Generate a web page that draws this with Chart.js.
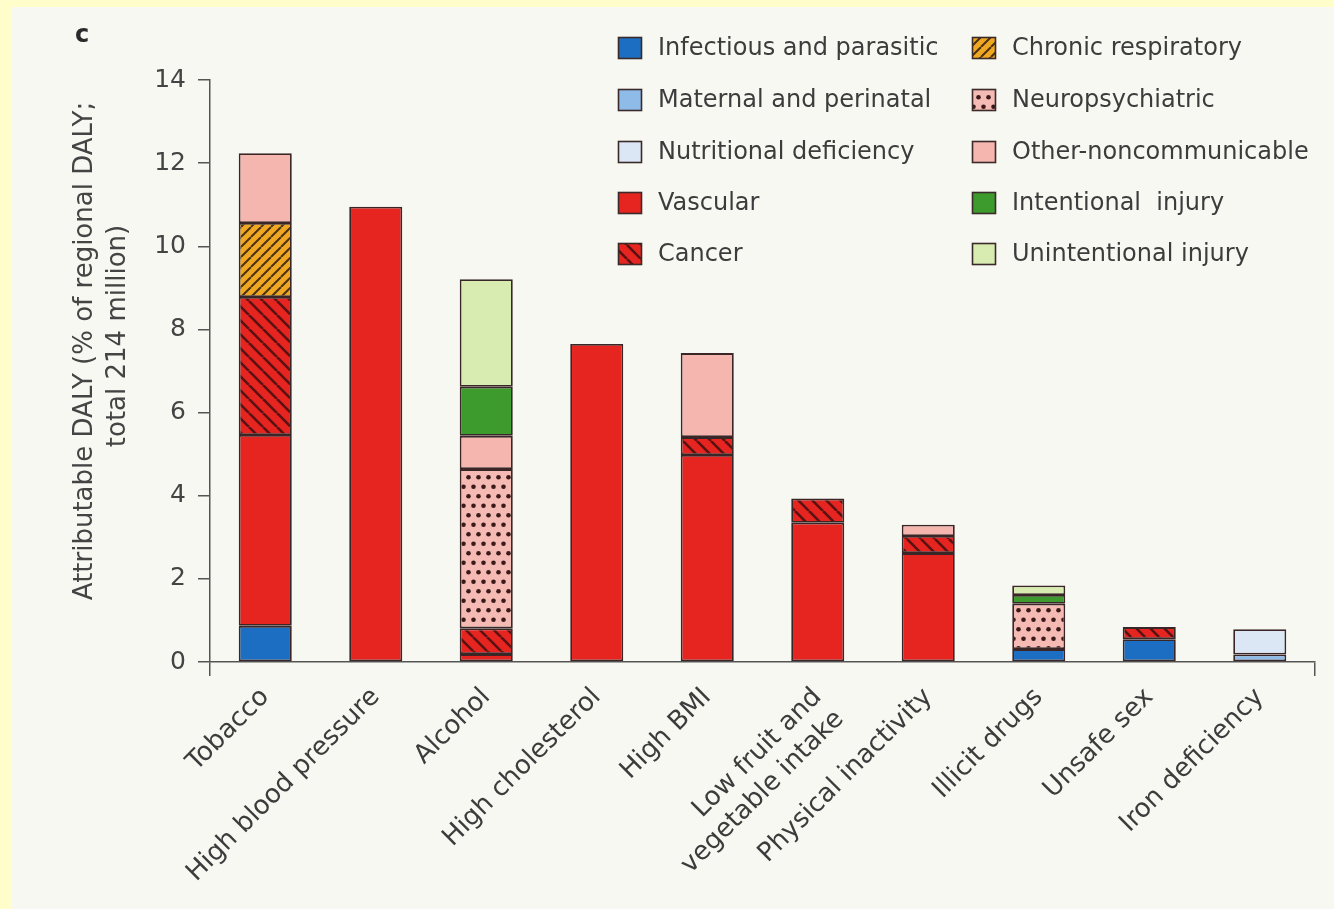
<!DOCTYPE html>
<html>
<head>
<meta charset="utf-8">
<script src="https://cdn.jsdelivr.net/npm/chart.js@4.4.1/dist/chart.umd.min.js"></script>
<style>
  html, body { margin: 0; padding: 0; background: #fffdc9; }
  #panel { position: absolute; left: 11px; top: 7px; width: 1323px; height: 902px; background: #f8f8f3; }
  canvas { display: block; }
</style>
</head>
<body>
<div id="panel"><canvas id="chart" width="1323" height="902"></canvas></div>
<script>
// Risk factors (x categories)
const categories = [
  'Tobacco', 'High blood pressure', 'Alcohol', 'High cholesterol', 'High BMI',
  ['Low fruit and', 'vegetable intake'], 'Physical inactivity', 'Illicit drugs',
  'Unsafe sex', 'Iron deficiency'
];

// Attributable DALY (% of regional DALY) by cause group, stacked bottom to top
const infectious     = [0.87, null, null, null, null, null, null, 0.31, 0.55, null];
const maternal       = [null, null, null, null, null, null, null, null, null, 0.18];
const nutritional    = [null, null, null, null, null, null, null, null, null, 0.61];
const vascular       = [4.59, 10.95, 0.19, 7.65, 4.98, 3.35, 2.62, null, null, null];
const cancer         = [3.32, null, 0.62, null, 0.43, 0.58, 0.41, null, 0.29, null];
const chronicResp    = [1.78, null, null, null, null, null, null, null, null, null];
const neuropsych     = [null, null, 3.83, null, null, null, null, 1.09, null, null];
const otherNoncomm   = [1.68, null, 0.80, null, 2.02, null, 0.27, null, null, null];
const intentional    = [null, null, 1.18, null, null, null, null, 0.21, null, null];
const unintentional  = [null, null, 2.59, null, null, null, null, 0.23, null, null];

// Y axis ticks
const yTicks = [0, 2, 4, 6, 8, 10, 12, 14];

const FONT = '"DejaVu Sans", sans-serif';

// Fill patterns for hatched / dotted cause groups
function hatchPattern(base, line, dir, step, lw) {
  const c = document.createElement('canvas');
  c.width = step; c.height = step;
  const g = c.getContext('2d');
  g.fillStyle = base;
  g.fillRect(0, 0, step, step);
  g.strokeStyle = line;
  g.lineWidth = lw;
  g.beginPath();
  for (let k = -1; k <= 1; k++) {
    if (dir === 'back') {
      g.moveTo(k * step, 0); g.lineTo(k * step + step, step);
    } else {
      g.moveTo(k * step, step); g.lineTo(k * step + step, 0);
    }
  }
  g.stroke();
  return g.createPattern(c, 'repeat');
}

function dotPattern(base, dot) {
  const w = 10, h = 19;
  const c = document.createElement('canvas');
  c.width = w; c.height = h;
  const g = c.getContext('2d');
  g.fillStyle = base;
  g.fillRect(0, 0, w, h);
  g.fillStyle = dot;
  [[2.5, 4.75], [7.5, 14.25]].forEach(([x, y]) => {
    g.beginPath(); g.arc(x, y, 2.3, 0, Math.PI * 2); g.fill();
  });
  return g.createPattern(c, 'repeat');
}

const seriesDefs = [
  { label: 'Infectious and parasitic', data: infectious,    fill: '#1c6ec2' },
  { label: 'Maternal and perinatal',   data: maternal,      fill: '#8fbbe9' },
  { label: 'Nutritional deficiency',   data: nutritional,   fill: '#dce7f5' },
  { label: 'Vascular',                 data: vascular,      fill: '#e62520' },
  { label: 'Cancer',                   data: cancer,        fill: hatchPattern('#e62520', '#5a1212', 'back', 14, 2.6) },
  { label: 'Chronic respiratory',      data: chronicResp,   fill: hatchPattern('#f0a823', '#4a3212', 'fwd', 10, 2) },
  { label: 'Neuropsychiatric',         data: neuropsych,    fill: dotPattern('#f4bab3', '#3b1a1a') },
  { label: 'Other-noncommunicable',    data: otherNoncomm,  fill: '#f6b6b0' },
  { label: 'Intentional  injury',      data: intentional,   fill: '#3d9a2c' },
  { label: 'Unintentional injury',     data: unintentional, fill: '#d8ebb0' }
];

const datasets = seriesDefs.map(s => ({
  label: s.label,
  data: s.data,
  backgroundColor: s.fill,
  borderColor: '#3a2626',
  borderWidth: 1.8,
  borderSkipped: false,
  barPercentage: 0.96,
  categoryPercentage: 0.5
}));

// Two-column legend drawn in the upper right of the panel
const legendPlugin = {
  id: 'causeLegend',
  afterDraw(chart) {
    const ctx = chart.ctx;
    const cols = [607, 961];
    const rows = [41, 93, 145, 196, 247];
    ctx.save();
    ctx.font = '24px ' + FONT;
    ctx.textBaseline = 'middle';
    chart.data.datasets.forEach((ds, i) => {
      const x = cols[Math.floor(i / 5)];
      const y = rows[i % 5];
      ctx.fillStyle = ds.backgroundColor;
      ctx.fillRect(x, y - 11, 24, 22);
      ctx.strokeStyle = '#3a2a2a';
      ctx.lineWidth = 1.6;
      ctx.strokeRect(x + 0.5, y - 10.5, 23, 21);
      ctx.fillStyle = '#3c3c3c';
      ctx.fillText(ds.label, x + 40, y + 1);
    });
    ctx.restore();
  }
};

// Panel letter and two-line y axis title
const titlePlugin = {
  id: 'axisTitle',
  afterDraw(chart) {
    const ctx = chart.ctx;
    ctx.save();
    ctx.fillStyle = '#2a2a2a';
    ctx.font = 'bold 24px ' + FONT;
    ctx.textBaseline = 'middle';
    ctx.textAlign = 'left';
    ctx.fillText('c', 64, 29);
    ctx.fillStyle = '#444';
    ctx.font = '26px ' + FONT;
    ctx.textAlign = 'center';
    [['Attributable DALY (% of regional DALY;', 74, 344], ['total 214 million)', 107, 329]].forEach(([t, x, y]) => {
      ctx.save();
      ctx.translate(x, y);
      ctx.rotate(-Math.PI / 2);
      ctx.fillText(t, 0, 0);
      ctx.restore();
    });
    ctx.restore();
  }
};

new Chart(document.getElementById('chart'), {
  type: 'bar',
  data: { labels: categories, datasets },
  plugins: [legendPlugin, titlePlugin],
  options: {
    responsive: false,
    animation: false,
    events: [],
    layout: { padding: { top: 73, right: 19, left: 0, bottom: 0 } },
    plugins: { legend: { display: false }, tooltip: { enabled: false } },
    scales: {
      x: {
        stacked: true,
        afterFit(scale) { scale.height = 247; },
        border: { display: true, color: '#555', width: 1.5 },
        grid: {
          drawOnChartArea: false,
          drawTicks: true,
          tickLength: 14,
          lineWidth: 1.5,
          color: c => (c.type === 'scale' || c.index === 0) ? '#555' : 'rgba(0,0,0,0)'
        },
        ticks: {
          minRotation: 45,
          maxRotation: 45,
          autoSkip: false,
          padding: 6,
          color: '#3c3c3c',
          font: { family: FONT, size: 26 }
        }
      },
      y: {
        stacked: true,
        min: 0,
        max: 14,
        afterFit(scale) { scale.width = 199; },
        afterBuildTicks(scale) { scale.ticks = yTicks.map(v => ({ value: v })); },
        border: { display: true, color: '#555', width: 1.5 },
        grid: { drawOnChartArea: false, drawTicks: true, tickLength: 12, color: '#555', lineWidth: 1.5 },
        ticks: {
          padding: 12,
          color: '#444',
          font: { family: FONT, size: 25 }
        }
      }
    }
  }
});
</script>
</body>
</html>
